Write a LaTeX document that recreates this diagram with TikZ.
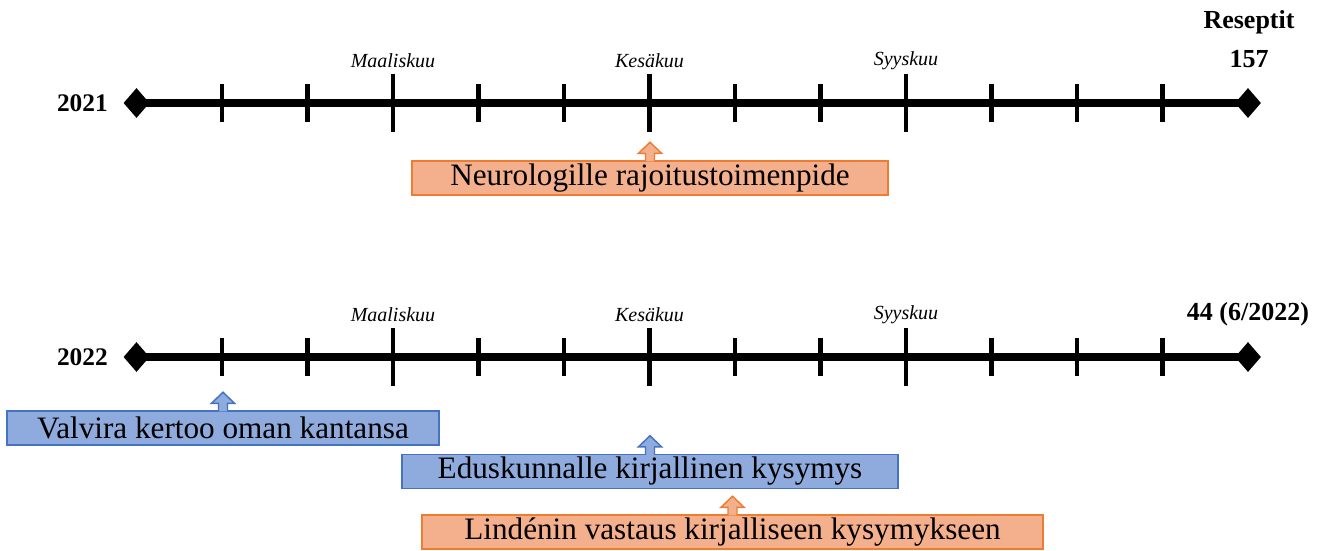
\documentclass[tikz,border=0pt]{standalone}
\usepackage{fontspec}
\setmainfont{Liberation Serif}
\usetikzlibrary{shapes.geometric,calc}

\definecolor{orfill}{RGB}{244,176,140}
\definecolor{orline}{RGB}{237,125,49}
\definecolor{blfill}{RGB}{143,170,220}
\definecolor{blline}{RGB}{68,114,196}

% small upward block arrow sitting on the top edge of an event box
\newcommand\eventarrow[2]{%
  \filldraw[#2, line width=1.1pt, line join=miter]
    ($(#1.north)+(-4.5,1)$) -- ($(#1.north)+(-4.5,-7)$) -- ($(#1.north)+(-11.5,-7)$)
    -- ($(#1.north)+(0,-18)$)
    -- ($(#1.north)+(11.5,-7)$) -- ($(#1.north)+(4.5,-7)$) -- ($(#1.north)+(4.5,1)$);}

\begin{document}
\begin{tikzpicture}[x=0.75pt,y=-0.75pt,
  axis/.style={line width=5.5pt},
  tickmark/.style={line width=3.6pt},
  endmark/.style={diamond,fill=black,inner sep=0pt,minimum width=19.5pt,minimum height=22.5pt},
  year/.style={font=\bfseries\fontsize{19}{22}\selectfont,anchor=east,inner sep=0pt},
  month/.style={font=\itshape\fontsize{15}{17}\selectfont,inner sep=0pt},
  note/.style={font=\bfseries\fontsize{19.5}{22}\selectfont,inner sep=0pt},
  event/.style={draw,line width=1.1pt,minimum height=25.5pt,inner sep=0pt,
                font=\fontsize{23.4}{27}\selectfont},
  orangebox/.style={event,fill=orfill,draw=orline},
  bluebox/.style={event,fill=blfill,draw=blline}]

\useasboundingbox (0,0) rectangle (1328,550);

% --- 2021 timeline: thirteen steps, month ticks at 3, 6 and 9 ---
\node[endmark] (s1) at (136.5,103) {};
\node[endmark] (e1) at (1248,103) {};
\draw[axis] (s1.center) -- (e1.center);
\foreach \k in {1,...,12}{
  \ifnum\k=3 \def\h{29}\else\ifnum\k=6 \def\h{29}\else\ifnum\k=9 \def\h{29}\else\def\h{19}\fi\fi\fi
  \coordinate (t1-\k) at ($(s1.center)!\k/13!(e1.center)$);
  \draw[tickmark] (t1-\k) +(0,-\h) -- +(0,\h);
}
\node[year] (y1) at (108,103) {2021};
\node[month] (m1a) at ($(t1-3)+(0,-42)$) {Maaliskuu};
\node[month] (m1b) at ($(t1-6)+(0,-42)$) {Kesäkuu};
\node[month] (m1c) at ($(t1-9)+(0,-42)$) {Syyskuu};
\node[note] (r1) at (1249,22) {Reseptit};
\node[note] (n1) at (1249,59) {157};

% --- 2022 timeline ---
\node[endmark] (s2) at (136.5,357) {};
\node[endmark] (e2) at (1248,357) {};
\draw[axis] (s2.center) -- (e2.center);
\foreach \k in {1,...,12}{
  \ifnum\k=3 \def\h{29}\else\ifnum\k=6 \def\h{29}\else\ifnum\k=9 \def\h{29}\else\def\h{19}\fi\fi\fi
  \coordinate (t2-\k) at ($(s2.center)!\k/13!(e2.center)$);
  \draw[tickmark] (t2-\k) +(0,-\h) -- +(0,\h);
}
\node[year] (y2) at (108,357) {2022};
\node[month] (m2a) at ($(t2-3)+(0,-42)$) {Maaliskuu};
\node[month] (m2b) at ($(t2-6)+(0,-42)$) {Kesäkuu};
\node[month] (m2c) at ($(t2-9)+(0,-42)$) {Syyskuu};
\node[note] (n2) at (1248,314) {44 (6/2022)};

% --- events ---
\node[orangebox,minimum width=357pt] (neuro) at (650,178) {Neurologille rajoitustoimenpide};
\eventarrow{neuro}{fill=orfill,draw=orline}

\node[bluebox,minimum width=324pt] (valvira) at (223,428) {Valvira kertoo oman kantansa};
\eventarrow{valvira}{fill=blfill,draw=blline}

\node[bluebox,minimum width=372pt] (kysymys) at (650,471.5) {Eduskunnalle kirjallinen kysymys};
\eventarrow{kysymys}{fill=blfill,draw=blline}

\node[orangebox,minimum width=465.75pt] (vastaus) at (732.5,532) {Lindénin vastaus kirjalliseen kysymykseen};
\eventarrow{vastaus}{fill=orfill,draw=orline}
\end{tikzpicture}
\end{document}
